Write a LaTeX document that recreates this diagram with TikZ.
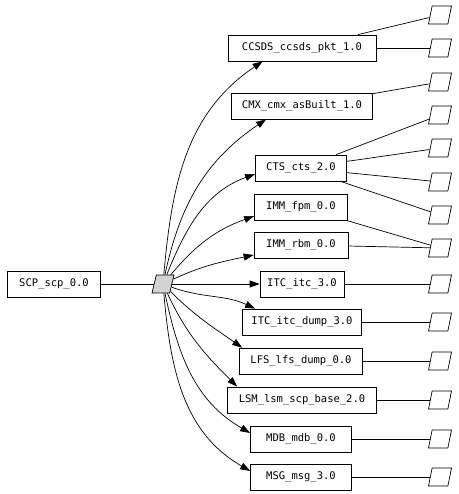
\documentclass[tikz,border=0pt]{standalone}
\usepackage{fontspec}
\setmonofont{DejaVu Sans Mono}
\usetikzlibrary{arrows.meta,shapes.geometric}
\definecolor{grishub}{RGB}{211,211,211}

\begin{document}
\begin{tikzpicture}[x=1pt,y=1pt,line width=0.7pt,
box/.style={draw,minimum height=26,inner sep=0,font=\ttfamily\fontsize{10.5}{12}\selectfont},
para/.style={draw,trapezium,trapezium left angle=77,trapezium right angle=103,trapezium stretches=true,minimum width=23,minimum height=18,inner sep=1pt},
hub/.style={para,fill=grishub,trapezium left angle=72,trapezium right angle=108,minimum width=22},
arr/.style={-{Triangle[length=10pt,width=7pt]}}
]
\useasboundingbox (0,0) rectangle (458,494);

\node[box,minimum width=93] (scp) at (54,210) {SCP\_scp\_0.0};
\node[hub] (hub) at (163,210) {};

\node[box,minimum width=148] (ccsds) at (302,446) {CCSDS\_ccsds\_pkt\_1.0};
\node[box,minimum width=141] (cmx) at (302,388) {CMX\_cmx\_asBuilt\_1.0};
\node[box,minimum width=91] (cts) at (301,326) {CTS\_cts\_2.0};
\node[box,minimum width=93] (fpm) at (301,287) {IMM\_fpm\_0.0};
\node[box,minimum width=94] (rbm) at (301,249) {IMM\_rbm\_0.0};
\node[box,minimum width=84] (itc) at (302,210) {ITC\_itc\_3.0};
\node[box,minimum width=119] (itcd) at (302,172) {ITC\_itc\_dump\_3.0};
\node[box,minimum width=123] (lfs) at (301,133) {LFS\_lfs\_dump\_0.0};
\node[box,minimum width=149] (lsm) at (302,94) {LSM\_lsm\_scp\_base\_2.0};
\node[box,minimum width=101] (mdb) at (301,55) {MDB\_mdb\_0.0};
\node[box,minimum width=101] (msg) at (301,17) {MSG\_msg\_3.0};

\foreach \n/\y in {1/479,2/446,3/412,4/379,5/346,6/312,7/279,8/246,9/210,10/172,11/133,12/94,13/55,14/17}
  \node[para] (p\n) at (440,\y) {};

\draw (scp) -- (hub);
\draw[arr] (hub) to[out=85,in=214] ([xshift=35]ccsds.south west);
\draw[arr] (hub) to[out=78,in=214] ([xshift=35]cmx.south west);
\draw[arr] (hub) to[out=68,in=200] ([yshift=-6]cts.west);
\draw[arr] (hub) to[out=50,in=200] ([yshift=-9]fpm.west);
\draw[arr] (hub) to[out=25,in=192] ([yshift=-10]rbm.west);
\draw[arr] (hub) -- (itc);
\draw[arr] (hub) to[out=-20,in=155] ([xshift=13]itcd.north west);
\draw[arr] (hub) to[out=-45,in=145] ([xshift=3]lfs.north west);
\draw[arr] (hub) to[out=-65,in=135] ([xshift=10]lsm.north west);
\draw[arr] (hub) to[out=-78,in=150] ([yshift=6]mdb.west);
\draw[arr] (hub) to[out=-85,in=150] ([yshift=6]msg.west);

\draw (ccsds) -- (p1);
\draw (ccsds) -- (p2);
\draw (cmx) -- (p3);
\foreach \n in {4,...,7} \draw (cts) -- (p\n);
\draw (fpm) -- (p8);
\draw (rbm) -- (p8);
\foreach \x/\n in {itc/9,itcd/10,lfs/11,lsm/12,mdb/13,msg/14} \draw (\x) -- (p\n);
\end{tikzpicture}
\end{document}
